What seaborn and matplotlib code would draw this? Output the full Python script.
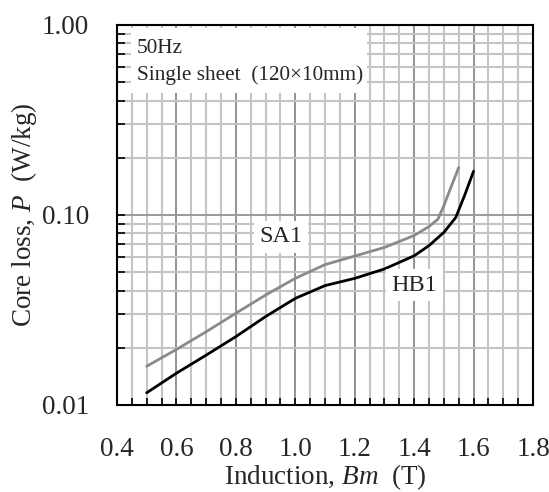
import numpy as np
import pandas as pd
import matplotlib
matplotlib.use("Agg")
import matplotlib.pyplot as plt
from matplotlib.ticker import MultipleLocator, LogLocator, FixedLocator, FixedFormatter, NullFormatter
from matplotlib.patches import Rectangle
import seaborn as sns

# ---- data ----
b_sa1 = [0.50, 0.60, 0.70, 0.80, 0.90, 1.00, 1.10, 1.20, 1.30, 1.40, 1.45, 1.48, 1.50, 1.52, 1.55]
p_sa1 = [0.0160, 0.0196, 0.0243, 0.0304, 0.0379, 0.0464, 0.0548, 0.0608, 0.0675, 0.0780, 0.0870, 0.0950, 0.1120, 0.1350, 0.1780]

b_hb1 = [0.50, 0.60, 0.70, 0.80, 0.90, 1.00, 1.10, 1.20, 1.30, 1.40, 1.45, 1.50, 1.54, 1.57, 1.60]
p_hb1 = [0.0116, 0.0147, 0.0183, 0.0229, 0.0292, 0.0364, 0.0425, 0.0464, 0.0520, 0.0610, 0.0690, 0.0810, 0.0970, 0.1270, 0.1700]

x_ticks = [0.4, 0.6, 0.8, 1.0, 1.2, 1.4, 1.6, 1.8]
x_tick_labels = ["0.4", "0.6", "0.8", "1.0", "1.2", "1.4", "1.6", "1.8"]
y_ticks = [0.01, 0.1, 1.0]
y_tick_labels = ["0.01", "0.10", "1.00"]

series_names = ["SA1", "HB1"]
series_colors = ["#8a8a8a", "#000000"]

df = pd.concat([
    pd.DataFrame({"B": b_sa1, "P": p_sa1, "grade": series_names[0]}),
    pd.DataFrame({"B": b_hb1, "P": p_hb1, "grade": series_names[1]}),
], ignore_index=True)

sns.set_theme(style="ticks")
plt.rcParams["font.family"] = ["Liberation Serif", "DejaVu Serif"]
plt.rcParams["mathtext.fontset"] = "custom"
plt.rcParams["mathtext.rm"] = "Liberation Serif"
plt.rcParams["mathtext.it"] = "Liberation Serif:italic"

fig = plt.figure(figsize=(5.49, 4.92), dpi=100)
ax = fig.add_axes([117/549, 1-405/492, 416/549, 380/492])
ax.set_axisbelow(True)

sns.lineplot(data=df, x="B", y="P", hue="grade", palette=dict(zip(series_names, series_colors)),
             sort=False, linewidth=2.0, legend=False, ax=ax, zorder=3)

ax.set_yscale("log")
ax.set_xlim(0.4, 1.8)
ax.set_ylim(0.01, 1.0)

ax.xaxis.set_major_locator(FixedLocator(x_ticks))
ax.xaxis.set_major_formatter(FixedFormatter(x_tick_labels))
ax.xaxis.set_minor_locator(MultipleLocator(0.05))
ax.yaxis.set_major_locator(FixedLocator(y_ticks))
ax.yaxis.set_major_formatter(FixedFormatter(y_tick_labels))
ax.yaxis.set_minor_locator(LogLocator(base=10, subs=np.arange(2, 10)))
ax.yaxis.set_minor_formatter(NullFormatter())

ax.xaxis.grid(True, which="major", color="#808080", linewidth=1.2)
ax.yaxis.grid(True, which="major", color="#9a9a9a", linewidth=1.4)
ax.grid(which="minor", color="#c4c4c4", linewidth=1.5)

ax.tick_params(axis="x", which="both", direction="in", length=5, width=1.2, color="black",
               labelsize=19.5, pad=23, bottom=True, top=False)
ax.tick_params(axis="y", which="both", direction="in", length=6, width=1.2, color="black",
               labelsize=19.5, pad=20, left=True, right=False)
for s in ax.spines.values():
    s.set_linewidth(1.5)
    s.set_color("black")

ax.set_xlabel("Induction, $Bm$  (T)", fontsize=19.5, labelpad=0)
ax.set_ylabel("Core loss, $P$  (W/kg)", fontsize=19.5, labelpad=2)

# info box
ax.add_patch(Rectangle((0.034, 0.821), 0.567, 0.171, transform=ax.transAxes,
                       facecolor="white", edgecolor="none", zorder=2.5))
ax.text(0.048, 0.926, "50Hz", transform=ax.transAxes, fontsize=15.3, ha="left", va="baseline", zorder=4)
ax.text(0.048, 0.855, "Single sheet  (120\u00d710mm)", transform=ax.transAxes, fontsize=15.3,
        ha="left", va="baseline", zorder=4)

# series labels
ax.text(0.952, 0.0766, series_names[0], fontsize=17.5, ha="center", va="center", zorder=4,
        bbox=dict(facecolor="white", edgecolor="none", pad=4))
ax.text(1.40, 0.0428, series_names[1], fontsize=17.5, ha="center", va="center", zorder=4,
        bbox=dict(facecolor="white", edgecolor="none", pad=4))

fig.savefig("out.png", dpi=100)
